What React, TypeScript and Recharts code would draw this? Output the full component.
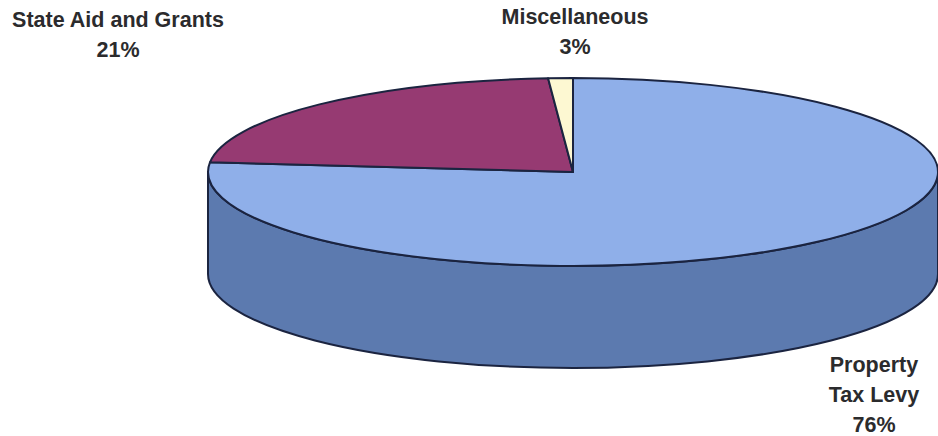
import React from 'react';
import { PieChart, Pie, Cell } from 'recharts';

const nameLines = [['Property', 'Tax Levy'], ['State Aid and Grants'], ['Miscellaneous']];
const shares = [76, 21, 3];
const topColors = ['#8fafe9', '#963a72', '#fdf8d2'];
const sideColors = ['#5c7aaf', '#6b2852', '#c9c49c'];
const labelSpots = [
  { x: 874, y: 372 },
  { x: 118, y: 27 },
  { x: 575, y: 24 },
];

const tableData = shares.map((value, i) => ({ name: nameLines[i].join(' '), value }));

const WIDTH = 938;
const HEIGHT = 436;
const TILT = 0.2575; // squash of the disc
const DEPTH = 102;
const OUTLINE = '#1b2440';
const RAD = Math.PI / 180;

// slices at the far side of the disc read narrower than the ones in front
const foreshorten = (deg: number) => deg - 18.7 * Math.sin(2 * deg * RAD);

const Slice = (props: any) => {
  const { cx, cy, outerRadius, startAngle, endAngle, index } = props;
  const rx = outerRadius;
  const ry = outerRadius * TILT;

  // clockwise degrees from twelve o'clock -> screen point
  const at = (deg: number, drop = 0) => {
    const a = foreshorten(deg) * RAD;
    return [cx + rx * Math.sin(a), cy - ry * Math.cos(a) + drop];
  };
  const from = 90 - startAngle;
  const to = 90 - endAngle;
  const [x0, y0] = at(from);
  const [x1, y1] = at(to);
  const large = foreshorten(to) - foreshorten(from) > 180 ? 1 : 0;
  const top = `M${cx},${cy} L${x0},${y0} A${rx},${ry} 0 ${large} 1 ${x1},${y1} Z`;

  // only the part of the rim facing the viewer gets a wall
  const wallFrom = Math.max(from, 90);
  const wallTo = Math.min(to, 270);
  let wall = null;
  if (wallTo > wallFrom) {
    const [ax, ay] = at(wallFrom);
    const [bx, by] = at(wallTo);
    wall = (
      <path
        d={`M${ax},${ay} A${rx},${ry} 0 0 1 ${bx},${by} L${bx},${by + DEPTH} A${rx},${ry} 0 0 0 ${ax},${ay + DEPTH} Z`}
        fill={sideColors[index]}
        stroke={OUTLINE}
        strokeWidth={2}
        strokeLinejoin="round"
      />
    );
  }

  return (
    <g>
      {wall}
      <path d={top} fill={topColors[index]} stroke={OUTLINE} strokeWidth={2} strokeLinejoin="round" />
    </g>
  );
};

const SliceLabel = (props: any) => {
  const { index, value } = props;
  const spot = labelSpots[index];
  const lines = [...nameLines[index], `${value}%`];
  return (
    <text
      x={spot.x}
      y={spot.y}
      textAnchor="middle"
      fontFamily="'Liberation Sans', Arial, sans-serif"
      fontWeight="bold"
      fontSize={21.5}
      fill="#2b2b2d"
    >
      {lines.map((line, i) => (
        <tspan key={line} x={spot.x} dy={i === 0 ? 0 : 30}>
          {line}
        </tspan>
      ))}
    </text>
  );
};

export default function App() {
  return (
    <div style={{ position: 'absolute', left: 0, top: 0, width: WIDTH, height: HEIGHT, background: '#fff' }}>
      <PieChart width={WIDTH} height={HEIGHT} margin={{ top: 0, right: 0, bottom: 0, left: 0 }}>
        <Pie
          data={tableData}
          dataKey="value"
          nameKey="name"
          cx={573}
          cy={172}
          outerRadius={365}
          startAngle={90}
          endAngle={-270}
          stroke="none"
          shape={Slice}
          label={SliceLabel}
          labelLine={false}
          isAnimationActive={false}
        >
          {tableData.map((d, i) => (
            <Cell key={d.name} fill={topColors[i]} />
          ))}
        </Pie>
      </PieChart>
    </div>
  );
}
